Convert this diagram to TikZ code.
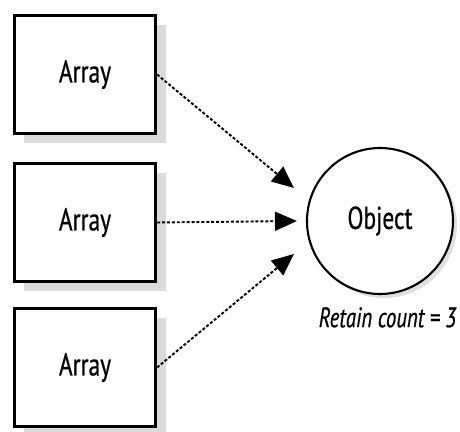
\documentclass[tikz,border=0pt]{standalone}
\usepackage{fontspec}
\setmainfont[FakeStretch=0.74, FakeBold=0.6]{PT Sans}
\usepackage{tikz}
\usetikzlibrary{positioning,arrows.meta,calc,shadows}

\tikzset{
  arraybox/.style={draw, line width=1.8pt, fill=white, minimum width=2.82cm,
    minimum height=2.36cm, font=\fontsize{18}{20}\selectfont,
    drop shadow={shadow xshift=0.2cm, shadow yshift=-0.2cm, fill=black!14, opacity=1}},
  objcircle/.style={draw, circle, line width=1.2pt, fill=white, minimum size=2.92cm,
    font=\fontsize{18}{20}\selectfont,
    drop shadow={shadow xshift=0.08cm, shadow yshift=-0.08cm, fill=black!12, opacity=1}},
  ref/.style={line width=1.1pt, dash pattern=on 1.7pt off 1.1pt,
    -{Triangle[length=0.44cm, width=0.38cm]}}
}

\begin{document}
\begin{tikzpicture}
    \useasboundingbox (0,0) rectangle (9.2,-8.64);

    % the three arrays
    \node[arraybox] (arr1) at (1.70,-1.49) {Array};
    \node[arraybox] (arr2) at (1.70,-4.45) {Array};
    \node[arraybox] (arr3) at (1.70,-7.35) {Array};

    % the shared object
    \node[objcircle] (obj) at (7.60,-4.42) {Object};
    \node[font=\fontsize{16}{18}\selectfont\itshape, below=0.12cm of obj, xshift=0.15cm] (cnt) {Retain count = 3};

    \coordinate (tip1) at ($(obj.west)+(-0.24,0.66)$);
    \coordinate (tip2) at ($(obj.west)+(-0.18,0)$);
    \coordinate (tip3) at ($(obj.west)+(-0.24,-0.66)$);

    \draw[ref] (arr1.east) -- (tip1);
    \draw[ref] (arr2.east) -- (tip2);
    \draw[ref] (arr3.east) -- (tip3);
  \end{tikzpicture}
\end{document}
